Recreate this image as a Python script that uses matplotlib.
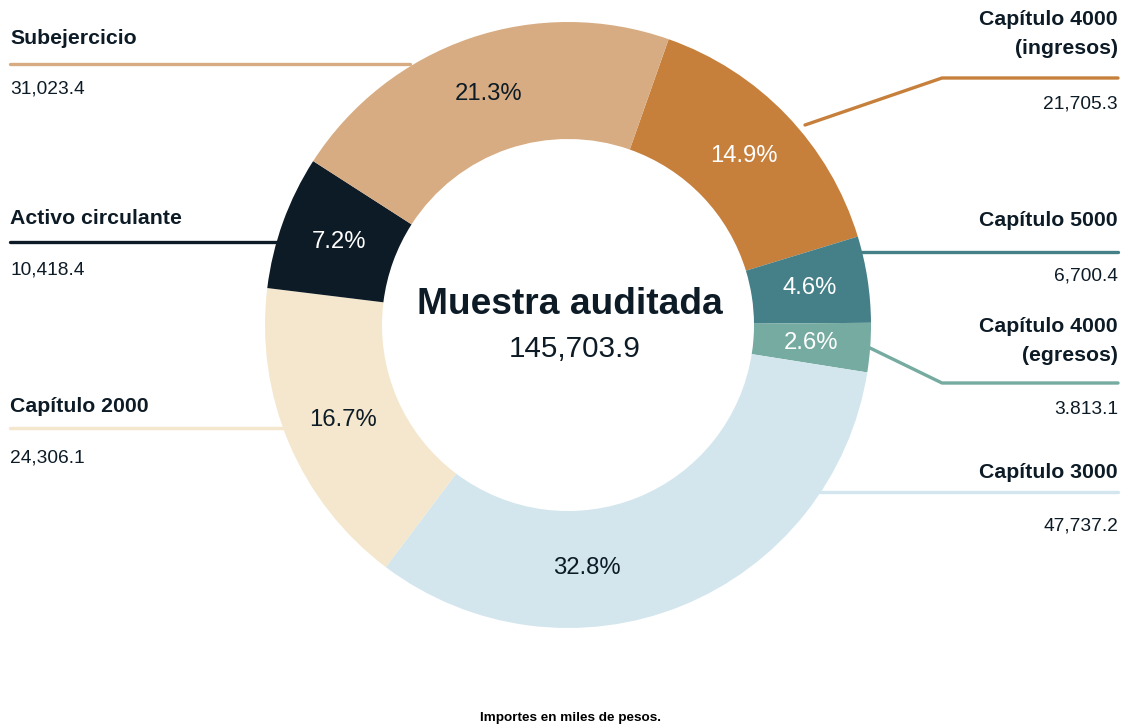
import numpy as np
import matplotlib.pyplot as plt

plt.rcParams['font.family'] = ['Liberation Sans', 'DejaVu Sans']

# data (clockwise from the top-right)
names = ['Capítulo 4000\n(ingresos)', 'Capítulo 5000', 'Capítulo 4000\n(egresos)',
         'Capítulo 3000', 'Capítulo 2000', 'Activo circulante', 'Subejercicio']
values = [21705.3, 6700.4, 3813.1, 47737.2, 24306.1, 10418.4, 31023.4]
value_labels = ['21,705.3', '6,700.4', '3.813.1', '47,737.2', '24,306.1',
                '10,418.4', '31,023.4']
total_label = '145,703.9'
colors = ['#C7803C', '#457F88', '#75ABA0', '#D3E6ED', '#F4E7CD', '#0D1B26', '#D8AC82']
pct_colors = ['white', 'white', 'white', '#0D1B26', '#0D1B26', 'white', '#0D1B26']
dark = '#0D1B26'

W, H = 1125, 727
cx, cy = 568, 325
r_out, r_in = 303, 186

fig = plt.figure(figsize=(W / 100, H / 100), dpi=100)
ax = fig.add_axes([0, 0, 1, 1])

# leader lines first, so the ring covers their ends
leaders = [
    [(805, 125), (942, 78), (1118, 78)],
    [(860, 252), (1118, 252)],
    [(870, 348), (942, 383), (1118, 383)],
    [(820, 492), (1118, 492)],
    [(10, 428), (300, 428)],
    [(10, 242), (285, 242)],
    [(10, 64), (410, 64)],
]
for pts, c in zip(leaders, colors):
    xs, ys = zip(*pts)
    ax.plot(xs, ys, color=c, lw=2.4, solid_capstyle='round', zorder=1)

# y axis is flipped below, so counterclock in data means clockwise on screen
wedges, _ = ax.pie(values, colors=colors, center=(cx, cy), radius=r_out,
                   startangle=-70.6, counterclock=True,
                   wedgeprops=dict(width=r_out - r_in, linewidth=0))
for w in wedges:
    w.set_zorder(2)

total = sum(values)
shift = {3: 17.5}
r_lab = 244
for i, (w, v) in enumerate(zip(wedges, values)):
    ang = np.deg2rad((w.theta1 + w.theta2) / 2 + shift.get(i, 0))
    ax.text(cx + r_lab * np.cos(ang), cy + r_lab * np.sin(ang),
            f'{v / total * 100:.1f}%', ha='center', va='center',
            fontsize=17.2, color=pct_colors[i], zorder=3)

# category labels
lab_pos = [
    (1118, 34, 104, 'right'),
    (1118, 220, 276, 'right'),
    (1118, 341, 410, 'right'),
    (1118, 472, 526, 'right'),
    (10, 406, 458, 'left'),
    (10, 219, 270, 'left'),
    (10, 38, 89, 'left'),
]
for name, vl, (x, yt, yv, ha) in zip(names, value_labels, lab_pos):
    ax.text(x, yt, name, ha=ha, va='center', fontsize=15.3, fontweight='bold',
            color=dark, linespacing=1.62)
    ax.text(x, yv, vl, ha=ha, va='center', fontsize=13.8, color=dark)

ax.text(cx + 2, 304, 'Muestra auditada', ha='center', va='center',
        fontsize=26.7, fontweight='bold', color=dark)
ax.text(cx + 7, 349, total_label, ha='center', va='center',
        fontsize=21.3, color=dark)
ax.text(cx + 2, 718, 'Importes en miles de pesos.', ha='center', va='center',
        fontsize=9.7, fontweight='bold', color='black')

ax.set_xlim(0, W)
ax.set_ylim(H, 0)
ax.set_aspect('equal')
ax.axis('off')

fig.savefig('out.png', dpi=100, facecolor='white')
